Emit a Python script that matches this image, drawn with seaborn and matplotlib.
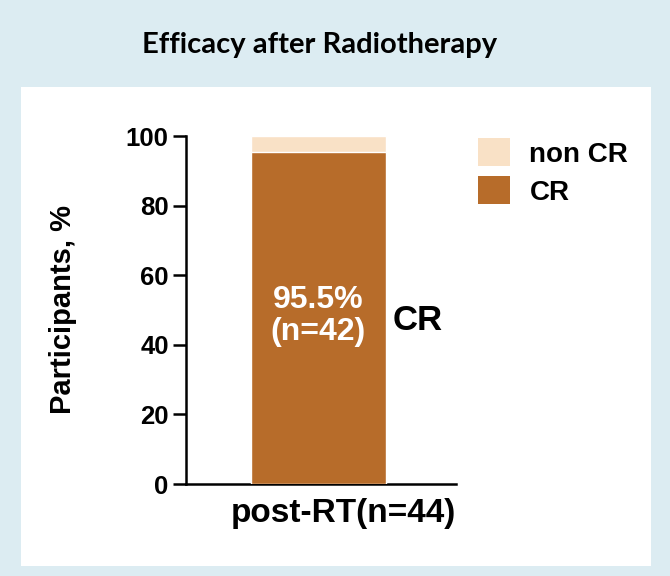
import matplotlib
matplotlib.use("Agg")
import matplotlib.pyplot as plt
import matplotlib.patches as mpatches
from matplotlib.transforms import ScaledTranslation
import seaborn as sns
import pandas as pd

# ---- data ----
groups = ["post-RT(n=44)"]
cr_pct = [95.5]
noncr_pct = [4.5]
cr_n = [42]
yticks = [0, 20, 40, 60, 80, 100]

CR_COLOR = "#b76c2a"
NONCR_COLOR = "#f9e1c6"
BG = "#dcecf2"

sns.set_theme(style="white")
plt.rcParams["font.family"] = ["Liberation Sans", "DejaVu Sans"]
plt.rcParams["text.color"] = "black"
plt.rcParams["axes.labelcolor"] = "black"
plt.rcParams["xtick.color"] = "black"
plt.rcParams["ytick.color"] = "black"

fig = plt.figure(figsize=(6.7, 5.76), dpi=100, facecolor=BG)
# white panel
panel = mpatches.Rectangle((21 / 670, 1 - 566 / 576), (651 - 21) / 670, (566 - 87) / 576,
                           transform=fig.transFigure, facecolor="white", edgecolor="none", zorder=-10)
fig.patches.append(panel)

ax = fig.add_axes([186 / 670, (576 - 484) / 576, (456 - 186) / 670, 348 / 576])
ax.set_zorder(1)
ax.set_facecolor("none")

df = pd.DataFrame({"group": groups,
                   "total": [c + n for c, n in zip(cr_pct, noncr_pct)],
                   "cr": cr_pct})

sns.barplot(data=df, x="group", y="total", color=NONCR_COLOR, width=0.8,
            saturation=1, ax=ax, zorder=2)
sns.barplot(data=df, x="group", y="cr", color=CR_COLOR, width=0.8,
            saturation=1, ax=ax, zorder=3)

ax.set_xlim(-0.79, 0.82)
ax.set_ylim(0, 100)
ax.set_yticks(yticks)
ax.set_yticklabels([str(t) for t in yticks], fontsize=18.5, fontweight="bold")
ax.set_xticks(range(len(groups)))
ax.set_xticklabels(groups, fontsize=24, fontweight="bold")
ax.tick_params(axis="y", length=9.5, width=1.8, pad=3, color="black", left=True)
ax.tick_params(axis="x", length=0, pad=10)
for lab in ax.get_xticklabels():
    lab.set_transform(lab.get_transform() + ScaledTranslation(25 / 100, 0, fig.dpi_scale_trans))
ax.set_xlabel("")
ax.set_ylabel("Participants, %", fontsize=21, fontweight="bold")
ax.yaxis.set_label_coords((77 - 186) / 270, 0.5)

for side in ["top", "right"]:
    ax.spines[side].set_visible(False)
for side in ["left", "bottom"]:
    ax.spines[side].set_linewidth(1.8)
    ax.spines[side].set_color("black")

for i, (c, n) in enumerate(zip(cr_pct, cr_n)):
    ax.text(i, 48.3, f"{c}%\n(n={n})", ha="center", va="center", color="white",
            fontsize=23, fontweight="bold", linespacing=1.1, zorder=5)
    ax.text(i + 0.44, 47.1, "CR", ha="left", va="center", color="black",
            fontsize=25, fontweight="bold", zorder=5)

handles = [mpatches.Patch(facecolor=NONCR_COLOR, edgecolor="none", label="non CR"),
           mpatches.Patch(facecolor=CR_COLOR, edgecolor="none", label="CR")]
leg = fig.legend(handles=handles, loc="upper left", bbox_to_anchor=(453 / 670, 1 - 113 / 576),
                 frameon=False, prop={"size": 20, "weight": "bold"},
                 handlelength=1.15, handleheight=1.2, handletextpad=0.7, labelspacing=0.3)

fig.text(320 / 670, 1 - 45 / 576, "Efficacy after Radiotherapy", ha="center", va="center",
         fontsize=21, fontweight="bold", family=["Lato", "DejaVu Sans"])

fig.savefig("out.png", dpi=100, facecolor=BG)
